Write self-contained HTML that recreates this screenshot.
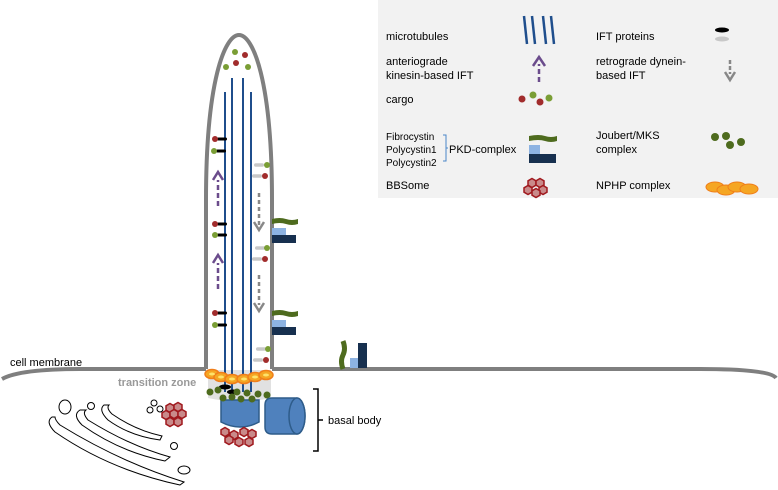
<!DOCTYPE html>
<html><head><style>body{margin:0;background:#fff}svg{display:block}text{font-family:"Liberation Sans",sans-serif}</style></head><body>
<svg width="778" height="490" viewBox="0 0 778 490" xmlns="http://www.w3.org/2000/svg">
<defs>
<g id="hex"><polygon points="0,-4.5 4,-2.2 4,2.2 0,4.5 -4,2.2 -4,-2.2" fill="#c98a8a" stroke="#a0191e" stroke-width="1.5"/></g>
<g id="ifta"><rect x="2" y="-1.5" width="10" height="3" rx="1.5" fill="#000"/></g>
<g id="iftr"><rect x="-12" y="-1.8" width="10" height="3.6" rx="1.8" fill="#c8c8c8"/></g>
</defs>
<rect x="378" y="0" width="400" height="198" fill="#f2f2f2"/>
<g font-size="11" fill="#000">
<text x="386" y="40">microtubules</text>
<text x="386" y="65">anteriograde</text><text x="386" y="79">kinesin-based IFT</text>
<text x="386" y="103">cargo</text>
<text x="386" y="140" font-size="10">Fibrocystin</text>
<text x="386" y="153" font-size="10">Polycystin1</text>
<text x="386" y="166" font-size="10">Polycystin2</text>
<text x="449" y="153">PKD-complex</text>
<text x="386" y="189">BBSome</text>
<text x="596" y="40">IFT proteins</text>
<text x="596" y="65">retrograde dynein-</text><text x="596" y="79">based IFT</text>
<text x="596" y="139">Joubert/MKS</text><text x="596" y="153">complex</text>
<text x="596" y="189">NPHP complex</text>
</g>
<path d="M443,135 h3 v26 h-3 M446,148 h2" fill="none" stroke="#4a86c8" stroke-width="1"/>
<g stroke="#1f4e8c" stroke-width="2.5"><line x1="524" y1="16" x2="527" y2="44"/><line x1="532" y1="16" x2="535" y2="44"/><line x1="543" y1="16" x2="546" y2="44"/><line x1="551" y1="16" x2="554" y2="44"/></g>
<ellipse cx="722" cy="30" rx="7" ry="2.5" fill="#000"/><ellipse cx="722" cy="39" rx="7" ry="2.5" fill="#c8c8c8"/>
<line x1="539" y1="82" x2="539" y2="64" stroke="#6b4c8c" stroke-width="2.5" stroke-dasharray="5,3"/><path d="M533,66 L539,57 L545,66" fill="none" stroke="#6b4c8c" stroke-width="2.5"/>
<line x1="730" y1="60" x2="730" y2="74" stroke="#888" stroke-width="2.5" stroke-dasharray="4,2"/><path d="M725,72 L730,80 L735,72" fill="none" stroke="#888" stroke-width="2.5"/>
<circle cx="522" cy="99" r="3.5" fill="#a12c2c"/><circle cx="533" cy="95" r="3.5" fill="#7a9e35"/><circle cx="540" cy="102" r="3.5" fill="#a12c2c"/><circle cx="549" cy="98" r="3.5" fill="#7a9e35"/>
<path d="M529,136 q10,-2 16,0 t12,0 v5 q-6,2 -12,0 t-16,0z" fill="#4e6b1e"/>
<rect x="529" y="145" width="11" height="9" fill="#8db3e2"/><rect x="529" y="154" width="27" height="9" fill="#17304f"/>
<circle cx="715" cy="137" r="4" fill="#4e6b1e"/><circle cx="726" cy="136" r="4" fill="#4e6b1e"/><circle cx="730" cy="145" r="4" fill="#4e6b1e"/><circle cx="741" cy="142" r="4" fill="#4e6b1e"/>
<use href="#hex" x="532" y="183"/><use href="#hex" x="540" y="183"/><use href="#hex" x="528" y="190"/><use href="#hex" x="543" y="190"/><use href="#hex" x="536" y="193"/>
<g fill="#f5a623" stroke="#f07e1a"><ellipse cx="715" cy="187" rx="9" ry="5"/><ellipse cx="726" cy="190" rx="9" ry="5"/><ellipse cx="737" cy="187" rx="9" ry="5"/><ellipse cx="749" cy="189" rx="9" ry="5"/></g>
<path d="M2,379 Q20,369 80,369 L206,369 M272,369 L700,369 Q770,369 776,378" fill="none" stroke="#7f7f7f" stroke-width="4"/>
<text x="10" y="366" font-size="11">cell membrane</text>
<path d="M206,369 L206,200 C206,80 225,35 239,35 C253,35 272,80 272,200 L272,369" fill="none" stroke="#7f7f7f" stroke-width="4"/>
<path d="M208,370 L271,370 L271,398 Q240,405 208,398 Z" fill="#d9d9d9" opacity="0.8"/>
<text x="118" y="386" font-size="11" font-weight="bold" fill="#999">transition zone</text>
<g stroke="#1f4e8c" stroke-width="2"><line x1="225" y1="92" x2="225" y2="392"/><line x1="232" y1="78" x2="232" y2="392"/><line x1="243" y1="78" x2="243" y2="392"/><line x1="251" y1="92" x2="251" y2="392"/></g>
<circle cx="235" cy="52" r="3" fill="#7a9e35"/><circle cx="245" cy="55" r="3" fill="#a12c2c"/><circle cx="236" cy="63" r="3" fill="#a12c2c"/><circle cx="226" cy="67" r="3" fill="#7a9e35"/><circle cx="248" cy="67" r="3" fill="#7a9e35"/>
<g>
<use href="#ifta" x="215" y="139"/><circle cx="215" cy="139" r="3" fill="#a12c2c"/>
<use href="#ifta" x="214" y="151"/><circle cx="214" cy="151" r="3" fill="#7a9e35"/>
<use href="#ifta" x="215" y="224"/><circle cx="215" cy="224" r="3" fill="#a12c2c"/>
<use href="#ifta" x="215" y="235"/><circle cx="215" cy="235" r="3" fill="#7a9e35"/>
<use href="#ifta" x="215" y="313"/><circle cx="215" cy="313" r="3" fill="#a12c2c"/>
<use href="#ifta" x="215" y="325"/><circle cx="215" cy="325" r="3" fill="#7a9e35"/>
</g>
<g stroke="#6b4c8c" stroke-width="2.5"><line x1="218" y1="206" x2="218" y2="180" stroke-dasharray="5,3"/><line x1="218" y1="289" x2="218" y2="263" stroke-dasharray="5,3"/></g>
<path d="M213,180 L218,172 L223,180 M213,263 L218,255 L223,263" fill="none" stroke="#6b4c8c" stroke-width="2.5"/>
<g>
<use href="#iftr" x="266" y="165"/><circle cx="267" cy="165" r="3" fill="#7a9e35"/>
<use href="#iftr" x="264" y="176"/><circle cx="265" cy="176" r="3" fill="#a12c2c"/>
<use href="#iftr" x="267" y="248"/><circle cx="267" cy="248" r="3" fill="#7a9e35"/>
<use href="#iftr" x="264" y="259"/><circle cx="265" cy="259" r="3" fill="#a12c2c"/>
<use href="#iftr" x="268" y="349"/><circle cx="268" cy="349" r="3" fill="#7a9e35"/>
<use href="#iftr" x="265" y="360"/><circle cx="266" cy="360" r="3" fill="#a12c2c"/>
</g>
<g stroke="#888" stroke-width="2.5"><line x1="259" y1="193" x2="259" y2="225" stroke-dasharray="4,3"/><line x1="259" y1="275" x2="259" y2="305" stroke-dasharray="4,3"/></g>
<path d="M254,222 L259,230 L264,222 M254,303 L259,311 L264,303" fill="none" stroke="#888" stroke-width="2.5"/>
<path d="M272,219 q8,-2 14,0 t12,0 v5 q-6,2 -12,0 t-14,0z" fill="#4e6b1e"/>
<rect x="272" y="228" width="14" height="7" fill="#8db3e2"/><rect x="272" y="235" width="24" height="8" fill="#17304f"/>
<path d="M272,311 q8,-2 14,0 t12,0 v5 q-6,2 -12,0 t-14,0z" fill="#4e6b1e"/>
<rect x="272" y="320" width="14" height="7" fill="#8db3e2"/><rect x="272" y="327" width="24" height="8" fill="#17304f"/>
<path d="M343,341 q3,8 0,14 t0,14" fill="none" stroke="#4e6b1e" stroke-width="5"/>
<rect x="350" y="358" width="8" height="10" fill="#8db3e2"/><rect x="358" y="343" width="9" height="25" fill="#17304f"/>
<g fill="#f5a623" stroke="#f07e1a" stroke-width="1.5">
<ellipse cx="212" cy="374" rx="7" ry="4.5"/><ellipse cx="221" cy="377" rx="7" ry="4.5"/><ellipse cx="232" cy="379" rx="7" ry="4.5"/><ellipse cx="244" cy="379" rx="7" ry="4.5"/><ellipse cx="255" cy="377" rx="7" ry="4.5"/><ellipse cx="266" cy="375" rx="7" ry="4.5"/></g>
<g fill="#fde36b"><ellipse cx="212" cy="374" rx="3" ry="1.5"/><ellipse cx="221" cy="377" rx="3" ry="1.5"/><ellipse cx="232" cy="379" rx="3" ry="1.5"/><ellipse cx="244" cy="379" rx="3" ry="1.5"/><ellipse cx="255" cy="377" rx="3" ry="1.5"/><ellipse cx="266" cy="375" rx="3" ry="1.5"/></g>
<ellipse cx="225" cy="387" rx="6" ry="2.5" fill="#000"/><ellipse cx="233" cy="392" rx="6" ry="2.5" fill="#000"/>
<path d="M221,400 L221,422 Q240,432 259,422 L259,400 Z" fill="#4f81bd" stroke="#2e5c8a" stroke-width="1.5"/>
<g fill="#4e6b1e"><circle cx="210" cy="392" r="3.5"/><circle cx="218" cy="390" r="3.5"/><circle cx="223" cy="398" r="3.5"/><circle cx="232" cy="397" r="3.5"/><circle cx="237" cy="392" r="3.5"/><circle cx="241" cy="399" r="3.5"/><circle cx="247" cy="393" r="3.5"/><circle cx="252" cy="399" r="3.5"/><circle cx="258" cy="394" r="3.5"/><circle cx="267" cy="395" r="3.5"/></g>
<path d="M272,398 L297,398 A8,18 0 0 1 297,434 L272,434 Q265,434 265,427 L265,405 Q265,398 272,398Z" fill="#4f81bd" stroke="#2e5c8a" stroke-width="1.5"/>
<ellipse cx="297" cy="416" rx="8" ry="18" fill="#4f81bd" stroke="#2e5c8a" stroke-width="1.5"/>
<path d="M313,389 h5 v62 h-5 M318,420 h5" fill="none" stroke="#000" stroke-width="1.5"/>
<text x="328" y="424" font-size="11">basal body</text>
<use href="#hex" x="225" y="432"/><use href="#hex" x="234" y="435"/><use href="#hex" x="244" y="432"/><use href="#hex" x="252" y="434"/><use href="#hex" x="229" y="440"/><use href="#hex" x="239" y="442"/><use href="#hex" x="249" y="442"/>
<use href="#hex" x="170" y="408"/><use href="#hex" x="178" y="407"/><use href="#hex" x="166" y="415"/><use href="#hex" x="174" y="414"/><use href="#hex" x="182" y="414"/><use href="#hex" x="170" y="422"/><use href="#hex" x="178" y="422"/>
<g fill="#fff" stroke="#000" stroke-width="1"><ellipse cx="65" cy="407" rx="6" ry="7"/><circle cx="91" cy="406" r="3.5"/><circle cx="154" cy="403" r="3"/><circle cx="150" cy="410" r="3"/><circle cx="160" cy="409" r="3"/><circle cx="174" cy="446" r="3.5"/><ellipse cx="184" cy="470" rx="6" ry="4"/></g>
<g fill="#fff" stroke="#000" stroke-width="1">
<path d="M52,417 Q45,422 55,432 Q110,470 180,485 L184,482 Q120,462 60,425 Q55,420 55,417Z"/>
<path d="M80,410 Q72,415 82,425 Q120,452 165,461 L170,457 Q130,446 88,420 Q82,413 86,410Z"/>
<path d="M104,405 Q98,410 108,420 Q130,436 160,440 L162,436 Q135,430 112,414 Q106,408 109,405Z"/>
</g>
</svg>
</body></html>
